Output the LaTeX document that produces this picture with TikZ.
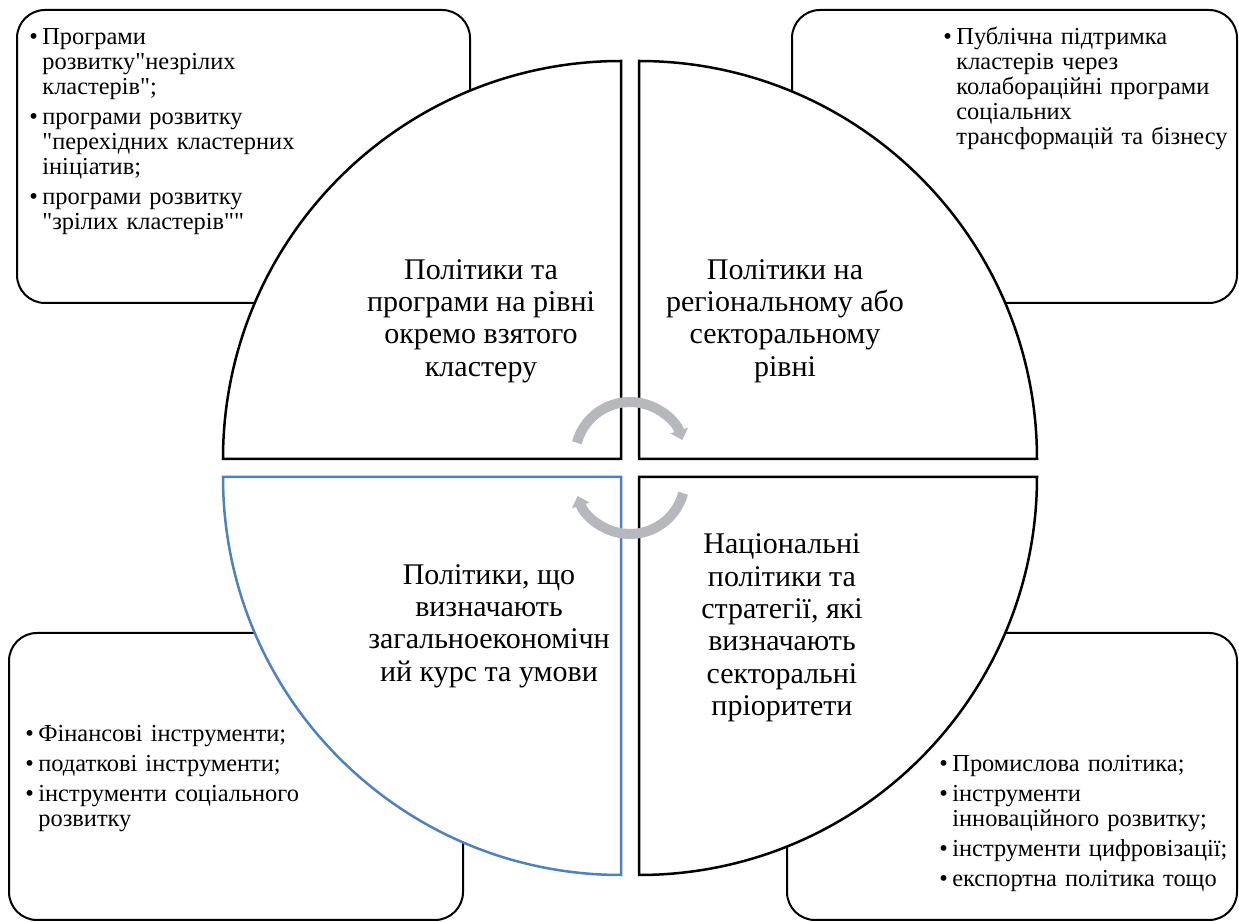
\documentclass[tikz,border=0pt]{standalone}
\usepackage{fontspec}
\setmainfont{Liberation Serif}[Ligatures=TeXOff]
\usetikzlibrary{arrows.meta,positioning}
\definecolor{secblue}{RGB}{79,129,189}
\definecolor{arrgray}{RGB}{181,184,188}
\newcommand{\bitem}[1]{\noindent\hangindent=6.5pt\hangafter=1\makebox[6.5pt][l]{\textbullet}#1\par}

\begin{document}
\begin{tikzpicture}[x=0.5pt,y=0.5pt,
   box/.style={draw, line width=1pt, rounded corners=14pt},
   sector/.style={draw, line width=1.25pt, fill=white},
   rotarrow/.style={arrgray, line width=5pt, -{Triangle[length=5pt,width=9pt]}},
   quadtext/.style={align=center, inner sep=0, font=\fontsize{15pt}{16.2pt}\selectfont},
   listtext/.style={align=left, inner sep=0, anchor=base west,
      font=\fontsize{12.2pt}{12.5pt}\selectfont\setlength{\parskip}{2.5pt}}]

   \useasboundingbox (0,0) rectangle (1239,922);

   % boxes behind the circle
   \draw[box] (17,619) rectangle (470,912);
   \draw[box] (792,619) rectangle (1237,912);
   \draw[box] (9,2) rectangle (463,289);
   \draw[box] (787,2) rectangle (1237,289);

   % four quarters
   \coordinate (tlc) at (621,463);
   \coordinate (trc) at (639,463);
   \coordinate (blc) at (621,445);
   \coordinate (brc) at (639,445);
   \draw[sector] (tlc) -- ++(-398,0) arc[start angle=180, end angle=90, radius=398] -- cycle;
   \draw[sector] (trc) -- ++(0,398) arc[start angle=90, end angle=0, radius=398] -- cycle;
   \draw[sector, draw=secblue] (blc) -- ++(0,-398) arc[start angle=270, end angle=180, radius=398] -- cycle;
   \draw[sector] (brc) -- ++(398,0) arc[start angle=0, end angle=-90, radius=398] -- cycle;

   % circular arrows
   \coordinate (ua) at (630,465);
   \coordinate (la) at (630,443);
   \draw[rotarrow] ([shift={(165:55)}]ua) arc[start angle=165, end angle=18, radius=55];
   \draw[rotarrow] ([shift={(-15:55)}]la) arc[start angle=-15, end angle=-162, radius=55];

   % quarter labels
   \node[quadtext] (tlq) at (481,601) {Політики та\\програми на рівні\\окремо взятого\\кластеру};
   \node[quadtext] (trq) at (785,601) {Політики на\\регіональному або\\секторальному\\рівні};
   \node[quadtext] (blq) at (489,296) {Політики, що\\визначають\\загальноекономічн\\ий курс та умови};
   \node[quadtext] (brq) at (782,294) {Національні\\політики та\\стратегії, які\\визначають\\секторальні\\пріоритети};

   % lists in the boxes
   \node[listtext, text width=215pt] (tllist) at (29,877)
      {\bitem{Програми\newline розвитку"незрілих\newline кластерів";}%
       \bitem{програми розвитку\newline "перехідних кластерних\newline ініціатив;}%
       \bitem{програми розвитку\newline "зрілих кластерів""}};
   \node[listtext, text width=160pt] (trlist) at (943,877)
      {\bitem{Публічна підтримка\newline кластерів через\newline колабораційні програми\newline соціальних\newline трансформацій та бізнесу}};
   \node[listtext, text width=215pt] (bllist) at (25,180)
      {\bitem{Фінансові інструменти;}%
       \bitem{податкові інструменти;}%
       \bitem{інструменти соціального\newline розвитку}};
   \node[listtext, text width=148pt] (brlist) at (939,150)
      {\bitem{Промислова політика;}%
       \bitem{інструменти\newline інноваційного розвитку;}%
       \bitem{інструменти цифровізації;}%
       \bitem{експортна політика тощо}};

\end{tikzpicture}
\end{document}
